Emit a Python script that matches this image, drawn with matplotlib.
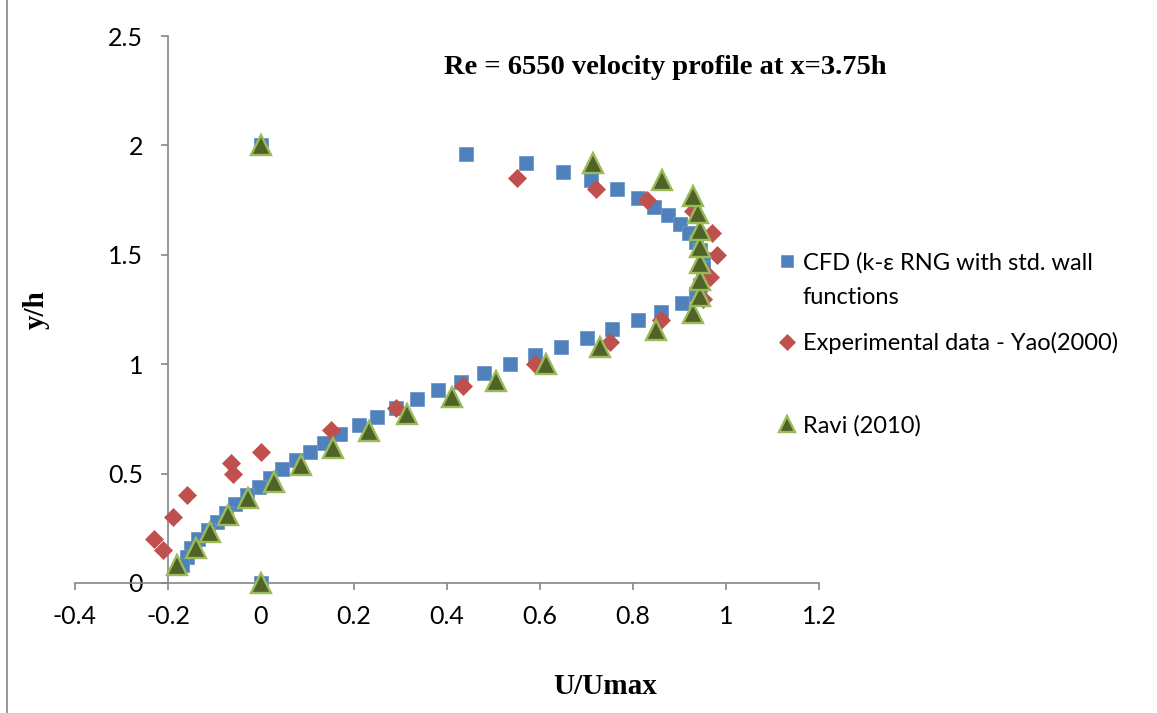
import matplotlib
matplotlib.use("Agg")
import matplotlib.pyplot as plt
from matplotlib.lines import Line2D

# CFD (k-epsilon RNG, standard wall functions)
cfd_u = [0.0, 0.44, 0.57, 0.65, 0.71, 0.765, 0.81, 0.845, 0.875, 0.90, 0.92,
         0.935, 0.945, 0.95, 0.95, 0.95, 0.945, 0.935, 0.905, 0.86, 0.81,
         0.755, 0.70, 0.645, 0.59, 0.535, 0.48, 0.43, 0.38, 0.335, 0.29,
         0.25, 0.21, 0.17, 0.135, 0.105, 0.075, 0.045, 0.02, -0.005, -0.03,
         -0.055, -0.075, -0.095, -0.115, -0.135, -0.15, -0.16, -0.17, 0.0]
cfd_y = [2.00, 1.96, 1.92, 1.88, 1.84, 1.80, 1.76, 1.72, 1.68, 1.64, 1.60,
         1.56, 1.52, 1.48, 1.44, 1.40, 1.36, 1.32, 1.28, 1.24, 1.20,
         1.16, 1.12, 1.08, 1.04, 1.00, 0.96, 0.92, 0.88, 0.84, 0.80,
         0.76, 0.72, 0.68, 0.64, 0.60, 0.56, 0.52, 0.48, 0.44, 0.40,
         0.36, 0.32, 0.28, 0.24, 0.20, 0.16, 0.12, 0.08, 0.00]

# Experimental data - Yao (2000)
yao_u = [-0.21, -0.23, -0.19, -0.16, -0.06, -0.065, 0.0, 0.15, 0.29, 0.435,
         0.59, 0.75, 0.86, 0.95, 0.965, 0.98, 0.97, 0.93, 0.83, 0.72, 0.55]
yao_y = [0.15, 0.20, 0.30, 0.40, 0.50, 0.55, 0.60, 0.70, 0.80, 0.90,
         1.00, 1.10, 1.20, 1.30, 1.40, 1.50, 1.60, 1.70, 1.75, 1.80, 1.85]

# Ravi (2010)
ravi_u = [0.0, -0.18, -0.14, -0.11, -0.07, -0.028, 0.027, 0.085, 0.155,
          0.233, 0.315, 0.41, 0.505, 0.612, 0.73, 0.85, 0.928, 0.944, 0.944,
          0.944, 0.944, 0.944, 0.94, 0.93, 0.862, 0.715, 0.0]
ravi_y = [0.0, 0.08, 0.158, 0.233, 0.31, 0.388, 0.463, 0.54, 0.616,
          0.695, 0.772, 0.848, 0.925, 1.0, 1.078, 1.155, 1.232, 1.31, 1.385,
          1.462, 1.537, 1.612, 1.69, 1.767, 1.84, 1.92, 2.0]

x_ticks = [-0.4, -0.2, 0.0, 0.2, 0.4, 0.6, 0.8, 1.0, 1.2]
x_tick_labels = ["-0.4", "-0.2", "0", "0.2", "0.4", "0.6", "0.8", "1", "1.2"]
y_ticks = [0.0, 0.5, 1.0, 1.5, 2.0, 2.5]
y_tick_labels = ["0", "0.5", "1", "1.5", "2", "2.5"]

cfd_label = ["CFD (k-\u03b5 RNG with std. wall", "functions"]
yao_label = "Experimental data - Yao(2000)"
ravi_label = "Ravi (2010)"

W, H = 1157, 713
fig = plt.figure(figsize=(W / 100, H / 100), dpi=100)
ax = fig.add_axes([75 / W, 130 / H, 744 / W, 547 / H])

axis_grey = "#868686"
sans = ["Lato", "DejaVu Sans"]
serif = "Liberation Serif"

h_cfd, = ax.plot(cfd_u, cfd_y, linestyle="none", marker="s", markersize=10.5,
                 markerfacecolor="#4F81BD", markeredgecolor="#6E97C8",
                 markeredgewidth=0.6, clip_on=False, zorder=3)
h_yao, = ax.plot(yao_u, yao_y, linestyle="none", marker="D", markersize=9,
                 markerfacecolor="#C0504D", markeredgecolor="#C0504D",
                 markeredgewidth=0.5, clip_on=False, zorder=4)
h_ravi, = ax.plot(ravi_u, ravi_y, linestyle="none", marker="^", markersize=14,
                  markerfacecolor="#4F6228", markeredgecolor="#9BBB59",
                  markeredgewidth=1.7, clip_on=False, zorder=5)

ax.set_xlim(-0.4, 1.2)
ax.set_ylim(0, 2.5)
ax.set_xticks(x_ticks)
ax.set_xticklabels(x_tick_labels)
ax.set_yticks(y_ticks)
ax.set_yticklabels(y_tick_labels)

for side in ("top", "right"):
    ax.spines[side].set_visible(False)
ax.spines["left"].set_position(("data", -0.2))
ax.spines["bottom"].set_position(("data", 0.0))
for side in ("left", "bottom"):
    ax.spines[side].set_color(axis_grey)
    ax.spines[side].set_linewidth(1.2)

ax.tick_params(axis="both", direction="out", length=5, width=1.2,
               color=axis_grey, labelsize=18)
ax.tick_params(axis="x", pad=11)
ax.tick_params(axis="y", pad=13)
for lab in ax.get_xticklabels() + ax.get_yticklabels():
    lab.set_fontfamily(sans)

fig.text(665 / W, 1 - 68 / H, "Re = 6550 velocity profile at x=3.75h",
         ha="center", va="center", fontfamily=serif, fontweight="bold",
         fontsize=20.5)
fig.text(605 / W, 1 - 686 / H, "U/Umax", ha="center", va="center",
         fontfamily=serif, fontweight="bold", fontsize=21)
fig.text(36 / W, 1 - 310 / H, "y/h", ha="center", va="center", rotation=90,
         fontfamily=serif, fontweight="bold", fontsize=21)

# legend: one block per series so each entry sits at its own height
legend_kw = dict(frameon=False, borderpad=0, borderaxespad=0,
                 handlelength=0.75, handletextpad=0.3,
                 prop={"family": sans, "size": 17}, markerscale=0.85)
blank = Line2D([], [], linestyle="none")
fig.legend([h_cfd, blank], cfd_label, loc="upper left",
           bbox_to_anchor=(778 / W, 1 - 252 / H), labelspacing=0.55,
           **legend_kw)
fig.legend([h_yao], [yao_label], loc="center left",
           bbox_to_anchor=(778 / W, 1 - 343 / H), **legend_kw)
fig.legend([h_ravi], [ravi_label], loc="center left",
           bbox_to_anchor=(778 / W, 1 - 426 / H), **legend_kw)

# chart frame edge
fig.add_artist(Line2D([7 / W, 7 / W], [0, 1], transform=fig.transFigure,
                      color=axis_grey, linewidth=1.2))

fig.savefig("out.png", dpi=100, facecolor="white")
